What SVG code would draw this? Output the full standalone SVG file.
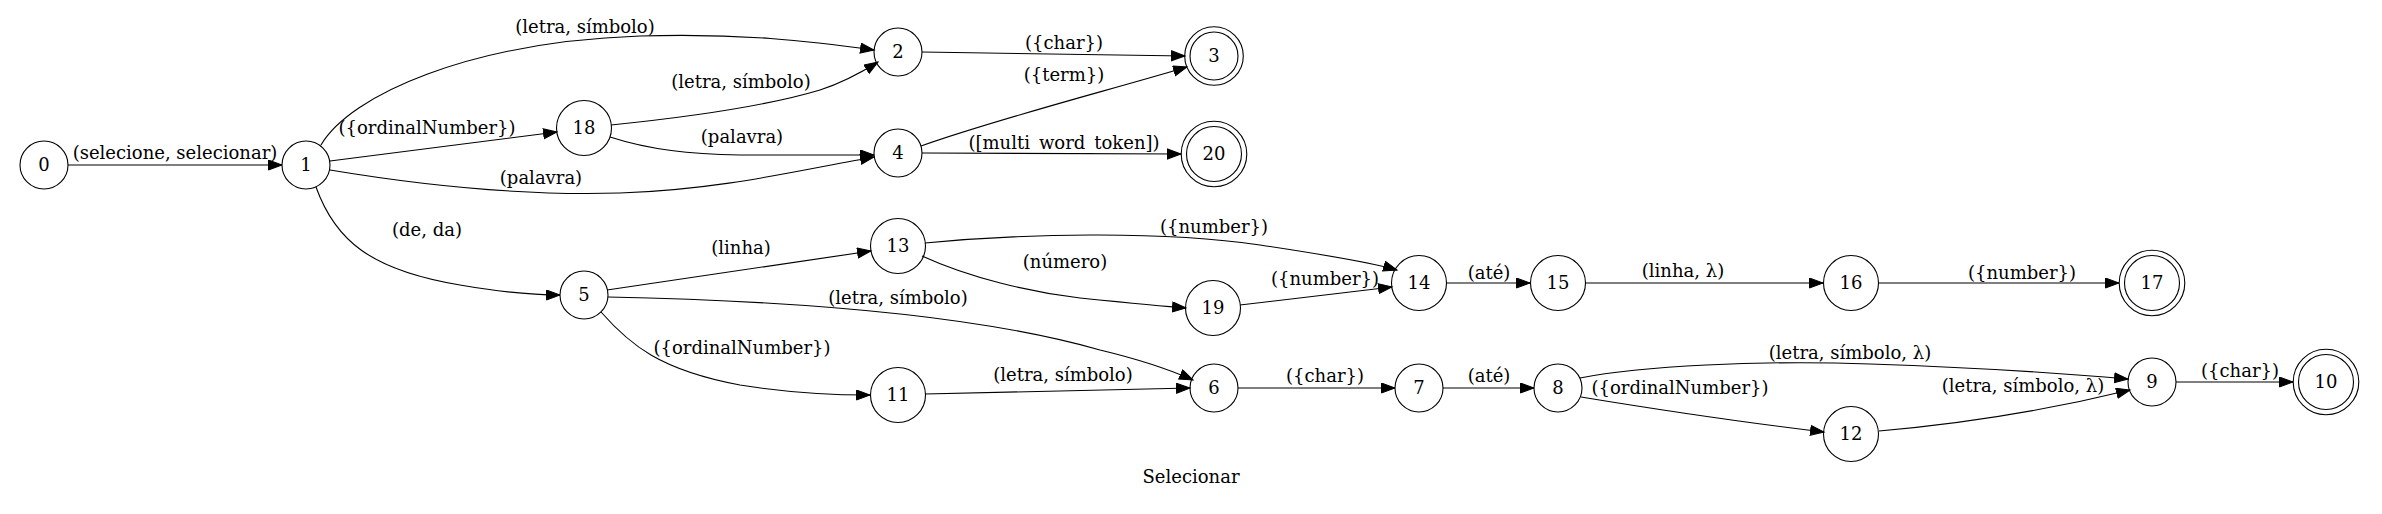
<svg xmlns="http://www.w3.org/2000/svg" width="2382" height="514" viewBox="0 0 2382 514">
<style>
text{font-family:"DejaVu Serif","Liberation Serif",serif;font-size:18px;fill:#000;text-anchor:middle}
.n{fill:none;stroke:#000;stroke-width:1.1}
.e{fill:none;stroke:#000;stroke-width:1.1;marker-end:url(#ah)}
</style>
<defs>
<marker id="ah" markerWidth="16" markerHeight="12" refX="14" refY="5.5" orient="auto" markerUnits="userSpaceOnUse"><path d="M0.5,0.5 L14,5.5 L0.5,10.5 z" fill="#000" stroke="#000" stroke-width="1"/></marker>
</defs>
<rect width="2382" height="514" fill="#fff"/>
<g id="connectors">
<path class="e" d="M68,165 L282,165"/>
<text x="175" y="159">(selecione, selecionar)</text>
<path class="e" d="M321,145 C350,95 470,42 640,36 C740,33 810,41 874,50"/>
<text x="585" y="33">(letra, símbolo)</text>
<path class="e" d="M330,161 L557,132"/>
<text x="427" y="134">({ordinalNumber})</text>
<path class="e" d="M330,170 C420,185 520,196 620,193 C720,190 800,170 874,157"/>
<text x="541" y="184">(palavra)</text>
<path class="e" d="M316,187 C335,240 370,270 460,285 C500,292 530,295 560,295"/>
<text x="427" y="236">(de, da)</text>
<path class="e" d="M611,125 C680,118 760,108 820,90 C845,82 862,72 878,62"/>
<text x="741" y="88">(letra, símbolo)</text>
<path class="e" d="M610,137 C650,150 690,154 740,155 C790,155 840,155 874,155"/>
<text x="742" y="143">(palavra)</text>
<path class="e" d="M922,52 L1185,56"/>
<text x="1064" y="49">({char})</text>
<path class="e" d="M921,146 C1000,118 1110,90 1187,67"/>
<text x="1064" y="81">({term})</text>
<path class="e" d="M922,153 L1181,154"/>
<text x="1064" y="149">([multi_word_token])</text>
<path class="e" d="M607,290 L871,251"/>
<text x="741" y="254">(linha)</text>
<path class="e" d="M608,297 C760,300 960,310 1100,350 C1150,362 1175,372 1193,380"/>
<text x="898" y="304">(letra, símbolo)</text>
<path class="e" d="M601,312 C630,345 660,370 740,385 C790,393 830,395 870,395"/>
<text x="742" y="354">({ordinalNumber})</text>
<path class="e" d="M925,243 C1020,234 1160,230 1260,245 C1320,254 1370,262 1397,270"/>
<text x="1214" y="233">({number})</text>
<path class="e" d="M922,256 C970,278 1030,292 1080,298 C1130,303 1160,306 1186,308"/>
<text x="1065" y="268">(número)</text>
<path class="e" d="M1240,305 L1392,287"/>
<text x="1325" y="285">({number})</text>
<path class="e" d="M1446,283 L1530,283"/>
<text x="1489" y="279">(até)</text>
<path class="e" d="M1585,283 L1823,283"/>
<text x="1683" y="277">(linha, λ)</text>
<path class="e" d="M1879,283 L2119,283"/>
<text x="2022" y="279">({number})</text>
<path class="e" d="M925,394 L1190,388"/>
<text x="1063" y="381">(letra, símbolo)</text>
<path class="e" d="M1238,388 L1395,388"/>
<text x="1325" y="382">({char})</text>
<path class="e" d="M1443,388 L1534,388"/>
<text x="1489" y="382">(até)</text>
<path class="e" d="M1580,378 C1640,366 1760,360 1870,364 C1960,367 2060,373 2128,379"/>
<text x="1850" y="359">(letra, símbolo, λ)</text>
<path class="e" d="M1581,397 C1660,410 1740,422 1824,432"/>
<text x="1680" y="394">({ordinalNumber})</text>
<path class="e" d="M1879,431 C1960,424 2040,412 2130,390"/>
<text x="2023" y="392">(letra, símbolo, λ)</text>
<path class="e" d="M2176,382 L2293,382"/>
<text x="2240" y="377">({char})</text>
</g>
<g id="n0"><circle class="n" cx="44" cy="165" r="24"/><text x="44" y="171">0</text></g>
<g id="n1"><circle class="n" cx="306" cy="165" r="24"/><text x="306" y="171">1</text></g>
<g id="n18"><circle class="n" cx="584" cy="128" r="27.5"/><text x="584" y="134">18</text></g>
<g id="n2"><circle class="n" cx="898" cy="52" r="24"/><text x="898" y="58">2</text></g>
<g id="n3"><circle class="n" cx="1214" cy="56" r="24"/><circle class="n" cx="1214" cy="56" r="29.3"/><text x="1214" y="62">3</text></g>
<g id="n4"><circle class="n" cx="898" cy="153" r="24"/><text x="898" y="159">4</text></g>
<g id="n20"><circle class="n" cx="1214" cy="154" r="27.5"/><circle class="n" cx="1214" cy="154" r="32.8"/><text x="1214" y="160">20</text></g>
<g id="n5"><circle class="n" cx="584" cy="295" r="24"/><text x="584" y="301">5</text></g>
<g id="n13"><circle class="n" cx="898" cy="246" r="27.5"/><text x="898" y="252">13</text></g>
<g id="n11"><circle class="n" cx="898" cy="395" r="27.5"/><text x="898" y="401">11</text></g>
<g id="n19"><circle class="n" cx="1213" cy="308" r="27.5"/><text x="1213" y="314">19</text></g>
<g id="n6"><circle class="n" cx="1214" cy="388" r="24"/><text x="1214" y="394">6</text></g>
<g id="n14"><circle class="n" cx="1419" cy="283" r="27.5"/><text x="1419" y="289">14</text></g>
<g id="n7"><circle class="n" cx="1419" cy="388" r="24"/><text x="1419" y="394">7</text></g>
<g id="n15"><circle class="n" cx="1558" cy="283" r="27.5"/><text x="1558" y="289">15</text></g>
<g id="n8"><circle class="n" cx="1558" cy="388" r="24"/><text x="1558" y="394">8</text></g>
<g id="n16"><circle class="n" cx="1851" cy="283" r="27.5"/><text x="1851" y="289">16</text></g>
<g id="n12"><circle class="n" cx="1851" cy="434" r="27.5"/><text x="1851" y="440">12</text></g>
<g id="n17"><circle class="n" cx="2152" cy="283" r="27.5"/><circle class="n" cx="2152" cy="283" r="32.8"/><text x="2152" y="289">17</text></g>
<g id="n9"><circle class="n" cx="2152" cy="382" r="24"/><text x="2152" y="388">9</text></g>
<g id="n10"><circle class="n" cx="2326" cy="382" r="27.5"/><circle class="n" cx="2326" cy="382" r="32.8"/><text x="2326" y="388">10</text></g>
<text x="1191" y="483">Selecionar</text>
</svg>
